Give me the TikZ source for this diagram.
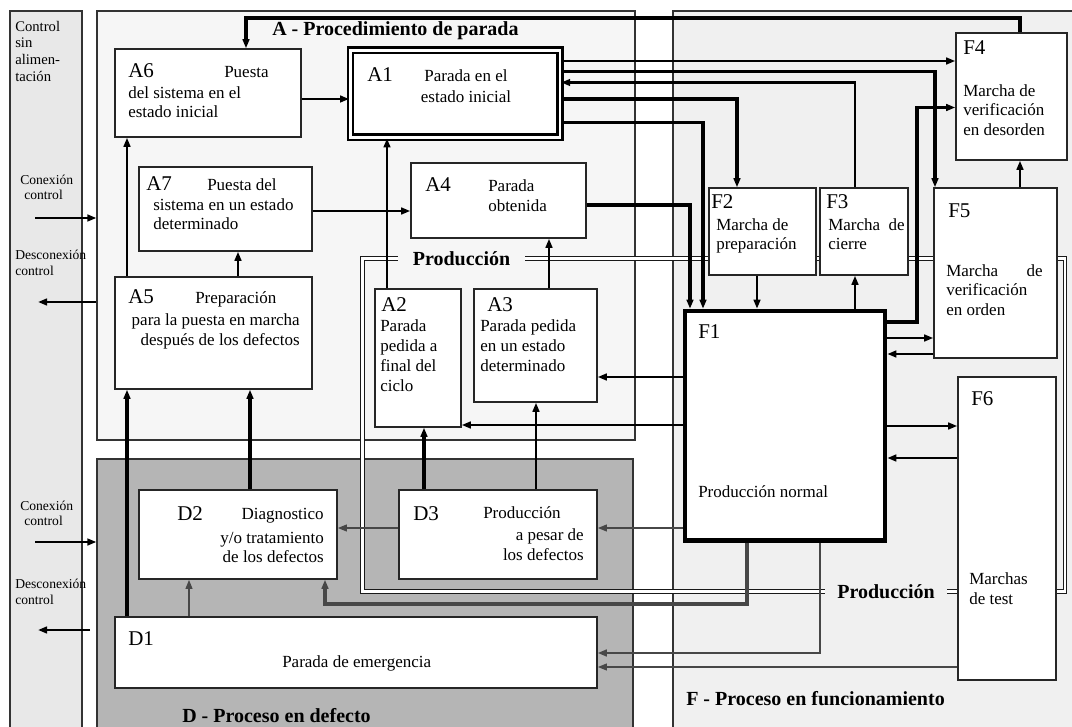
\documentclass[tikz,border=0pt]{standalone}
\usepackage{fontspec}
\setmainfont{Liberation Serif}
\usetikzlibrary{arrows.meta,fit,backgrounds}

\definecolor{pLeft}{gray}{0.91}
\definecolor{pA}{gray}{0.965}
\definecolor{pD}{gray}{0.71}
\definecolor{pF}{gray}{0.94}

\tikzset{
  box/.style={draw=black!85, line width=1.1pt, fill=white, inner sep=0pt},
  panel/.style={draw=black!80, line width=0.8pt, inner sep=0pt},
  tx/.style={inner sep=0pt, anchor=base west, font=\fontsize{12.75}{15}\selectfont},
  txr/.style={tx, anchor=base east},
  txc/.style={tx, anchor=base},
  cd/.style={inner sep=0pt, anchor=base west, font=\fontsize{15.75}{18}\selectfont},
  ttl/.style={inner sep=0pt, anchor=base west, font=\bfseries\fontsize{15}{18}\selectfont},
  sm/.style={inner sep=0pt, anchor=base west, font=\fontsize{10.2}{12}\selectfont},
  smb/.style={inner sep=0pt, anchor=base west, font=\fontsize{11}{13}\selectfont},
  prodlbl/.style={inner sep=0pt, anchor=center, font=\bfseries\fontsize{15}{18}\selectfont,
                  text height=10pt, text depth=0pt},
  prod/.style={draw=black!90, double=white, double distance=1.7pt, line width=0.85pt},
  tip/.style={-{Triangle[length=6.8pt,width=5pt]}},
  thn/.style={line width=1.3pt},
  med/.style={line width=1.8pt},
  thk/.style={line width=2.6pt},
  gry/.style={draw=black!72, color=black!72},
}

\begin{document}
\begin{tikzpicture}[x=0.75pt,y=-0.75pt]
\useasboundingbox (0,0) rectangle (1072,727);

% ---------- A : procedimiento de parada ----------
\node[box, fit={(115,49)(301,137)}] (A6) {};
\node[cd] (A6c) at (128,78) {A6};
\node[tx] (A6t1) at (224,78) {Puesta};
\node[tx] (A6t2) at (128,99) {del sistema en el};
\node[tx] (A6t3) at (128,118) {estado inicial};

\node[box, draw=black, double=white, double distance=2.2pt, line width=1.75pt,
      fit={(350.3,50.2)(560,137.2)}] (A1) {};
\node[cd] (A1c) at (367,82) {A1};
\node[txc] (A1t1) at (466,82) {Parada en el};
\node[txc] (A1t2) at (466,103) {estado inicial};

\node[box, fit={(139,167)(312,251)}] (A7) {};
\node[cd] (A7c) at (146,191) {A7};
\node[tx] (A7t1) at (207,191) {Puesta del};
\node[tx] (A7t2) at (153,211) {sistema en un estado};
\node[tx] (A7t3) at (153,230) {determinado};

\node[box, fit={(411,163)(586,238)}] (A4) {};
\node[cd] (A4c) at (425,192) {A4};
\node[tx] (A4t1) at (488,192) {Parada};
\node[tx] (A4t2) at (488,212) {obtenida};

\node[box, fit={(115,277)(312,389)}] (A5) {};
\node[cd] (A5c) at (128,304) {A5};
\node[tx] (A5t1) at (195,304) {Preparación};
\node[txr] (A5t2) at (300,326) {para la puesta en marcha};
\node[txr] (A5t3) at (300,346) {después de los defectos};

\node[box, fit={(375,289)(461,427)}] (A2) {};
\node[cd] (A2c) at (381,312) {A2};
\node[tx] (A2t1) at (380,332) {Parada};
\node[tx] (A2t2) at (380,352) {pedida a};
\node[tx] (A2t3) at (380,372) {final del};
\node[tx] (A2t4) at (380,392) {ciclo};

\node[box, fit={(474,289)(597,402)}] (A3) {};
\node[cd] (A3c) at (487,312) {A3};
\node[tx] (A3t1) at (480,332) {Parada pedida};
\node[tx] (A3t2) at (480,352) {en un estado};
\node[tx] (A3t3) at (480,372) {determinado};

% ---------- D : proceso en defecto ----------
\node[box, fit={(139,490)(337,579)}] (D2) {};
\node[cd] (D2c) at (177,520) {D2};
\node[txr] (D2t1) at (324,519) {Diagnostico};
\node[txr] (D2t2) at (324,543) {y/o tratamiento};
\node[txr] (D2t3) at (324,562) {de los defectos};

\node[box, fit={(399,490)(597,579)}] (D3) {};
\node[cd] (D3c) at (413,520) {D3};
\node[tx] (D3t1) at (483,518) {Producción};
\node[txr] (D3t2) at (584,541) {a pesar de};
\node[txr] (D3t3) at (584,561) {los defectos};

\node[box, fit={(115,617)(597,688)}] (D1) {};
\node[cd] (D1c) at (128,645) {D1};
\node[tx] (D1t1) at (282,667) {Parada de emergencia};

% ---------- F : proceso en funcionamiento ----------
\node[box, draw=black, line width=3.4pt, fit={(685,311)(885,540.5)}] (F1) {};
\node[cd] (F1c) at (698,339) {F1};
\node[tx] (F1t1) at (698,498) {Producción normal};

\node[box, fit={(709,188)(816,275)}] (F2) {};
\node[cd] (F2c) at (711,209) {F2};
\node[tx] (F2t1) at (716,231) {Marcha de};
\node[tx] (F2t2) at (716,250) {preparación};

\node[box, fit={(820,188)(908,275)}] (F3) {};
\node[cd] (F3c) at (826,209) {F3};
\node[tx] (F3t1) at (828,231) {Marcha\ \ de};
\node[tx] (F3t2) at (828,250) {cierre};

\node[box, fit={(956,33)(1067,160)}] (F4) {};
\node[cd] (F4c) at (963,55) {F4};
\node[tx] (F4t1) at (963,97) {Marcha de};
\node[tx] (F4t2) at (963,116) {verificación};
\node[tx] (F4t3) at (963,136) {en desorden};

\node[box, fit={(934,188)(1057,358)}] (F5) {};
\node[cd] (F5c) at (948,218) {F5};
\node[tx] (F5t1) at (946,277) {Marcha};
\node[txr] (F5t2) at (1043,277) {de};
\node[tx] (F5t3) at (946,296) {verificación};
\node[tx] (F5t4) at (946,316) {en orden};

\node[box, fit={(958,377)(1056,680)}] (F6) {};
\node[cd] (F6c) at (971,406) {F6};
\node[tx] (F6t1) at (969,584) {Marchas};
\node[tx] (F6t2) at (969,604) {de test};

% ---------- production loop labels ----------
\node[prodlbl, minimum width=95.25pt] (prodA) at (461.5,258.5) {Producción};
\node[prodlbl, minimum width=91.5pt] (prodB) at (886,591.5) {Producción};

% ---------- titles and side texts ----------
\node[ttl] (ttlA) at (272,36) {A - Procedimiento de parada};
\node[ttl] (ttlD) at (182,722) {D - Proceso en defecto};
\node[ttl] (ttlF) at (686,705) {F - Proceso en funcionamiento};

\node[smb] (s1) at (15,32) {Control};
\node[smb] (s2) at (15,48) {sin};
\node[smb] (s3) at (15,65) {alimen-};
\node[smb] (s4) at (15,82) {tación};

\node[sm] (c1a) at (20,185) {Conexión};
\node[sm] (c1b) at (24,200) {control};
\node[sm] (d1a) at (15,260) {Desconexión};
\node[sm] (d1b) at (15,276) {control};
\node[sm] (c2a) at (20,510) {Conexión};
\node[sm] (c2b) at (24,525) {control};
\node[sm] (d2a) at (15,588) {Desconexión};
\node[sm] (d2b) at (15,604) {control};

% ---------- panels and production loop (behind) ----------
\begin{scope}[on background layer]
  \node[panel, fill=pLeft, fit={(10,11)(82,745)}] (panelC) {};
  \node[panel, fill=pA, fit={(97,11)(635,440)}] (panelA) {};
  \node[panel, fill=pD, fit={(97,459)(633,745)}] (panelD) {};
  \node[panel, fill=pF, fit={(673,11)(1090,745)}] (panelF) {};
  \draw[prod] (prodA.east) -- (1065,258.5) |- (F6.east |- prodB);
  \draw[prod] (prodA.west) -| (362.5,591.5) -- (prodB.west);
  \draw[prod] (prodB.east) -- (F6.west |- prodB);
\end{scope}

% ---------- control connection arrows ----------
\coordinate (cin1) at (35,218);
\coordinate (cout1) at (38,302);
\coordinate (cin2) at (35,542);
\coordinate (cs2) at (90,630);
\coordinate (cout2) at (38,630);
\draw[med,tip] (cin1) -- (panelA.west |- cin1);
\draw[med,tip] (panelA.west |- cout1) -- (cout1);
\draw[med,tip] (cin2) -- (panelD.west |- cin2);
\draw[med,tip] (cs2) -- (cout2);

% ---------- connectors ----------
% return from F4 to A6 over the top
\draw[thk,tip] (1020,0 |- F4.north) -- (1020,18) -| (246,0 |- A6.north);
% from A1
\draw[med,tip] (A1.east |- 0,61) -- (F4.west |- 0,61);
\draw[thk,tip] (A1.east |- 0,71.5) -| (935,0 |- F5.north);
\draw[med,tip] (855,0 |- F3.north) |- (A1.east |- 0,82.5);
\draw[thk,tip] (A1.east |- 0,99) -| (737,0 |- F2.north);
\draw[thk,tip] (A1.east |- 0,122.5) -| (703,0 |- F1.north);
\draw[thk,tip] (A4.east |- 0,205) -| (690,0 |- F1.north);
% F group
\draw[med,tip] (757,0 |- F2.south) -- (757,0 |- F1.north);
\draw[med,tip] (855,0 |- F1.north) -- (855,0 |- F3.south);
\draw[thk,tip] (F1.east |- 0,322) -| (917,107.5) -- (F4.west |- 0,107.5);
\draw[med,tip] (1020,0 |- F5.north) -- (1020,0 |- F4.south);
\draw[med,tip] (F1.east |- 0,338) -- (F5.west |- 0,338);
\draw[med,tip] (F5.west |- 0,354) -- (F1.east |- 0,354);
\draw[med,tip] (F1.east |- 0,426) -- (F6.west |- 0,426);
\draw[med,tip] (F6.west |- 0,458) -- (F1.east |- 0,458);
% F1 towards A
\draw[med,tip] (F1.west |- 0,377) -- (A3.east |- 0,377);
\draw[med,tip] (F1.west |- 0,425) -- (A2.east |- 0,425);
% F towards D
\draw[thn,gry,tip] (F1.west |- 0,528) -- (D3.east |- 0,528);
\draw[thn,gry,tip] (D3.west |- 0,528) -- (D2.east |- 0,528);
\draw[thk,gry,tip] (747,0 |- F1.south) |- (325,604) -- (325,0 |- D2.south);
\draw[med,gry,tip] (820,0 |- F1.south) |- (D1.east |- 0,653);
\draw[thn,gry,tip] (F6.west |- 0,667) -- (D1.east |- 0,667);
\draw[thn,gry,tip] (189,0 |- D1.north) -- (189,0 |- D2.south);
% D towards A
\draw[thk,tip] (127,0 |- D1.north) -- (127,0 |- A5.south);
\draw[thk,tip] (250,0 |- D2.north) -- (250,0 |- A5.south);
\draw[thk,tip] (424,0 |- D3.north) -- (424,0 |- A2.south);
\draw[med,tip] (536,0 |- D3.north) -- (536,0 |- A3.south);
% inside A
\draw[med,tip] (127,0 |- A5.north) -- (127,0 |- A6.south);
\draw[med,tip] (238,0 |- A5.north) -- (238,0 |- A7.south);
\draw[med,tip] (A6.east |- 0,99) -- (A1.west |- 0,99);
\draw[med,tip] (A7.east |- 0,211) -- (A4.west |- 0,211);
\draw[med,tip] (387,0 |- A2.north) -- (387,0 |- A1.south);
\draw[med,tip] (549,0 |- A3.north) -- (549,0 |- A4.south);
\end{tikzpicture}
\end{document}
